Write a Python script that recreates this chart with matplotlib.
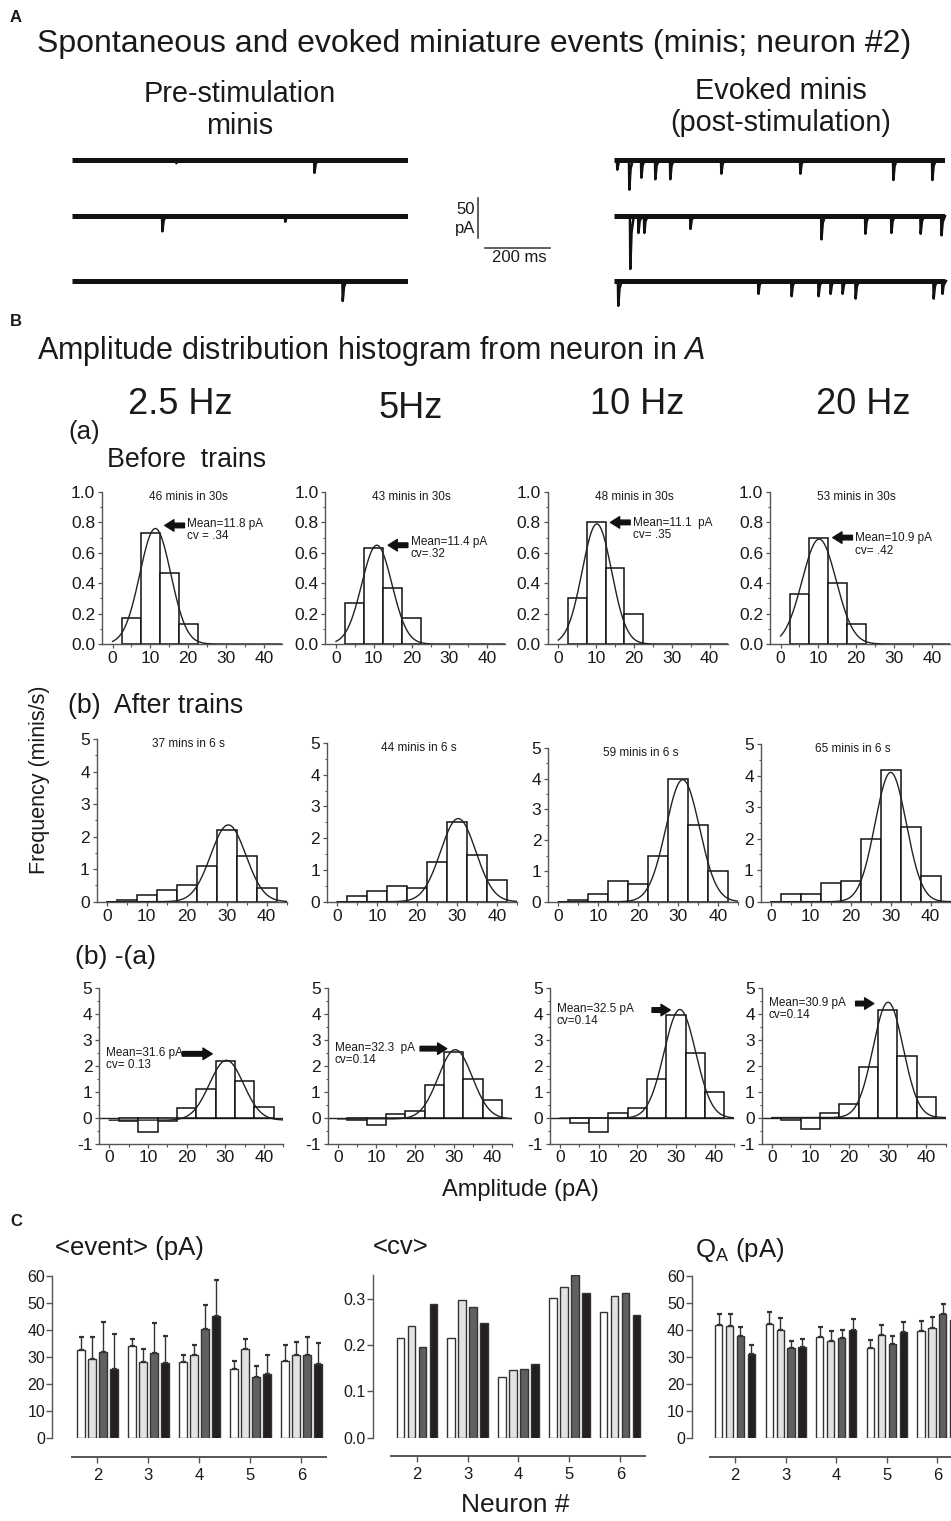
import numpy as np
import matplotlib
matplotlib.use('Agg')
import matplotlib.pyplot as plt
from matplotlib.ticker import MultipleLocator

plt.rcParams['font.family'] = ['Liberation Sans', 'DejaVu Sans']
plt.rcParams['mathtext.fontset'] = 'custom'
plt.rcParams['mathtext.rm'] = 'Liberation Sans'
plt.rcParams['mathtext.it'] = 'Liberation Sans:italic'

# ======================= DATA =======================
# Panel A: miniature events (time in ms, amplitude in pA)
pre_duration = 1034
post_duration = 1018
pre_times = [[320, 745], [277, 655], [832]]
pre_amps = [[4, 16], [19, 7], [25]]
post_times = [[9, 46, 83, 126, 172, 329, 572, 858, 978],
              [49, 74, 92, 234, 637, 772, 852, 942, 1006],
              [12, 443, 545, 628, 665, 702, 742, 982, 1009]]
post_amps = [[12, 37, 22, 24, 24, 17, 17, 25, 25],
             [66, 21, 21, 16, 29, 22, 21, 22, 24],
             [31, 16, 19, 19, 16, 16, 22, 22, 16]]

# Panel B: histograms (bin centres in pA, frequency in minis/s)
bin_centers = [5, 10, 15, 20, 25, 30, 35, 40]
freq_labels = ['2.5 Hz', '5Hz', '10 Hz', '20 Hz']

before_bars = [[0.17, 0.73, 0.47, 0.13, 0, 0, 0, 0],
               [0.27, 0.63, 0.37, 0.17, 0, 0, 0, 0],
               [0.30, 0.80, 0.50, 0.20, 0, 0, 0, 0],
               [0.33, 0.70, 0.40, 0.13, 0, 0, 0, 0]]
before_fit_mu = [11.3, 10.8, 10.2, 10.2]
before_fit_sd = [4.1, 4.0, 3.9, 4.5]
before_fit_peak = [0.76, 0.65, 0.79, 0.69]
before_counts = ['46 minis in 30s', '43 minis in 30s', '48 minis in 30s', '53 minis in 30s']
before_mean_txt = ['Mean=11.8 pA\ncv = .34', 'Mean=11.4 pA\ncv=.32',
                   'Mean=11.1  pA\ncv= .35', 'Mean=10.9 pA\ncv= .42']

after_bars = [[0.05, 0.20, 0.35, 0.52, 1.10, 2.20, 1.41, 0.41],
              [0.17, 0.34, 0.49, 0.42, 1.24, 2.52, 1.46, 0.67],
              [0.07, 0.24, 0.66, 0.59, 1.50, 4.00, 2.50, 1.00],
              [0.24, 0.24, 0.58, 0.66, 1.99, 4.18, 2.38, 0.80]]
after_fit_mu = [30.4, 30.3, 31.1, 30.0]
after_fit_sd = [4.4, 4.4, 4.2, 3.9]
after_fit_peak = [2.36, 2.62, 3.97, 4.10]
after_counts = ['37 mins in 6 s', '44 minis in 6 s', '59 minis in 6 s', '65 minis in 6 s']

diff_bars = [[-0.15, -0.56, -0.15, 0.36, 1.09, 2.18, 1.40, 0.40],
             [-0.10, -0.30, 0.14, 0.26, 1.26, 2.53, 1.47, 0.68],
             [-0.20, -0.55, 0.18, 0.37, 1.50, 3.96, 2.49, 1.00],
             [-0.09, -0.45, 0.19, 0.54, 1.97, 4.15, 2.37, 0.79]]
diff_fit_mu = [30.3, 30.4, 31.0, 30.1]
diff_fit_sd = [4.4, 4.4, 4.1, 3.9]
diff_fit_peak = [2.31, 2.67, 4.19, 4.45]
diff_fit_base = [-0.1, -0.05, -0.02, 0.0]
diff_mean_txt = ['Mean=31.6 pA\ncv= 0.13', 'Mean=32.3  pA\ncv=0.14',
                 'Mean=32.5 pA\ncv=0.14', 'Mean=30.9 pA\ncv=0.14']

# Panel C: per-neuron values, 4 bars per neuron (2.5, 5, 10, 20 Hz)
neurons = [2, 3, 4, 5, 6]
event_mean = [[32.5, 29.3, 31.9, 25.5],
              [33.9, 28.2, 31.6, 27.8],
              [28.3, 30.6, 40.2, 45.1],
              [25.5, 33.0, 22.5, 23.9],
              [28.4, 30.9, 30.8, 27.3]]
event_err = [[5.0, 8.1, 10.9, 13.0],
             [2.9, 4.9, 11.0, 10.1],
             [2.3, 4.0, 9.1, 13.2],
             [3.0, 3.8, 4.0, 7.0],
             [6.0, 4.8, 6.7, 7.9]]
cv_mean = [[0.215, 0.241, 0.195, 0.289],
           [0.214, 0.296, 0.282, 0.248],
           [0.131, 0.147, 0.149, 0.159],
           [0.302, 0.324, 0.350, 0.311],
           [0.270, 0.305, 0.311, 0.264]]
qa_mean = [[41.7, 41.3, 37.9, 31.2],
           [42.1, 40.1, 33.2, 33.6],
           [37.3, 35.9, 36.9, 40.0],
           [33.2, 38.0, 34.9, 39.2],
           [39.5, 40.6, 45.8, 43.5]]
qa_err = [[4.3, 4.7, 3.1, 3.1],
          [4.6, 4.3, 2.8, 3.2],
          [3.7, 3.7, 3.1, 3.9],
          [3.2, 3.9, 3.0, 3.8],
          [3.9, 4.2, 3.9, 4.0]]
bar_colors = ['#ffffff', '#e2e2e2', '#606060', '#231f20']

# ======================= FIGURE =======================
W, H = 951, 1521
fig = plt.figure(figsize=(W / 100, H / 100), dpi=100)
INK = '#1a1a1a'
SP = '#555555'


def add_ax(left, top, width, height):
    return fig.add_axes([left / W, 1 - (top + height) / H, width / W, height / H])


def ftext(x, y, s, **kw):
    kw.setdefault('color', INK)
    fig.text(x / W, 1 - y / H, s, **kw)


# ---------- Panel A ----------
ftext(10, 18, 'A', fontsize=12, fontweight='bold', va='center')
ftext(37, 44, 'Spontaneous and evoked miniature events (minis; neuron #2)',
      fontsize=23, va='center')
ftext(240, 110, 'Pre-stimulation\nminis', fontsize=20.8, ha='center', va='center',
      linespacing=1.2)
ftext(781, 107, 'Evoked minis\n(post-stimulation)', fontsize=20.8, ha='center',
      va='center', linespacing=1.2)


def event_shapes(times, amps):
    shapes = []
    for t, a in zip(times, amps):
        shapes.append(([t, t + 1.2, t + 5, t + 12], [0, -a, -0.3 * a, 0]))
    return shapes


trace_offsets = [-25, -95, -176]
for (left, width, dur, tlist, alist) in [(72, 336, pre_duration, pre_times, pre_amps),
                                         (614, 331, post_duration, post_times, post_amps)]:
    ax = add_ax(left, 140, width, 165)
    ax.set_xlim(0, dur)
    ax.set_ylim(-206, 0)
    ax.axis('off')
    for off, ts, am in zip(trace_offsets, tlist, alist):
        ax.plot([0, dur], [off, off], color='#111111', lw=3.6, solid_capstyle='butt')
        for xs, ys in event_shapes(ts, am):
            ax.plot(xs, np.array(ys) + off, color='#111111', lw=1.8, clip_on=False)

# scale bar
axs = add_ax(470, 190, 100, 60)
axs.set_xlim(0, 100 / 0.325)
axs.set_ylim(-75, 0)
axs.axis('off')
axs.plot([24.6, 24.6], [-10, -60], color='#444444', lw=1.2)
axs.plot([46, 246], [-72.5, -72.5], color='#444444', lw=1.2)
ftext(475, 209, '50', fontsize=12, ha='right', va='center')
ftext(475, 229, 'pA', fontsize=12, ha='right', va='center')
ftext(519, 257, '200 ms', fontsize=12, ha='center', va='center')

# ---------- Panel B ----------
ftext(10, 322, 'B', fontsize=12, fontweight='bold', va='center')
ftext(37, 351, r'Amplitude distribution histogram from neuron in $\mathit{A}$',
      fontsize=22, va='center')
for x, y, s in zip([180, 411, 637, 863], [405, 408, 405, 405], freq_labels):
    ftext(x, y, s, fontsize=26, ha='center', va='center')
ftext(68, 432, '(a)', fontsize=18.5, va='center')
ftext(107, 460, 'Before  trains', fontsize=19.3, va='center')
ftext(68, 706, '(b)  After trains', fontsize=19.3, va='center')
ftext(75, 957, '(b) -(a)', fontsize=19, va='center')
ftext(40, 780, 'Frequency (minis/s)', fontsize=15.5, rotation=90, ha='center',
      va='center')
ftext(520, 1190, 'Amplitude (pA)', fontsize=17, ha='center', va='center')


def style_hist(ax, ymin, ymax, ymaj, ymin_step, fmt):
    for s in ['top', 'right']:
        ax.spines[s].set_visible(False)
    for s in ['left', 'bottom']:
        ax.spines[s].set_color(SP)
        ax.spines[s].set_linewidth(1.0)
    ax.set_ylim(ymin, ymax)
    ax.xaxis.set_major_locator(MultipleLocator(10))
    ax.xaxis.set_minor_locator(MultipleLocator(5))
    ax.yaxis.set_major_locator(MultipleLocator(ymaj))
    ax.yaxis.set_minor_locator(MultipleLocator(ymin_step))
    ax.tick_params(which='major', direction='out', length=3, width=0.9, color=SP,
                   labelsize=12.5, labelcolor=INK, pad=2)
    ax.tick_params(which='minor', direction='out', length=1.8, width=0.8, color=SP)
    ax.set_xticks([0, 10, 20, 30, 40])
    ax.yaxis.set_major_formatter(plt.FuncFormatter(lambda v, p: fmt.format(v)))


def draw_bars(ax, vals):
    c = [b for b, v in zip(bin_centers, vals) if v != 0]
    v = [v for v in vals if v != 0]
    ax.bar(c, v, width=5, facecolor='white', edgecolor='#111111', linewidth=1.1,
           zorder=2)


def draw_fit(ax, mu, sd, peak, base=0.0):
    xx = np.linspace(0, 45, 300)
    ax.plot(xx, base + peak * np.exp(-(xx - mu) ** 2 / (2 * sd ** 2)), color='#222222',
            lw=1.0, zorder=3)


def arrow(ax, tail, tip):
    ax.annotate('', xy=tip, xytext=tail,
                arrowprops=dict(arrowstyle='simple,head_length=0.6,head_width=0.75,tail_width=0.3',
                                color='#111111', mutation_scale=11, shrinkA=0, shrinkB=0))


# row (a)
row_a_lefts = [102, 325.4, 547.7, 770]
arrow_a_y = [0.78, 0.65, 0.80, 0.70]
text_a_y = [0.75, 0.63, 0.755, 0.655]
for i in range(4):
    ax = add_ax(row_a_lefts[i], 492, 180, 152)
    ax.set_xlim(-2.8, 44.8)
    style_hist(ax, 0, 1.0, 0.2, 0.1, '{:.1f}')
    draw_bars(ax, before_bars[i])
    draw_fit(ax, before_fit_mu[i], before_fit_sd[i], before_fit_peak[i])
    ax.text(20, 0.965, before_counts[i], fontsize=8.5, ha='center', va='center',
            color=INK)
    ax.text(19.8, text_a_y[i], before_mean_txt[i], fontsize=8.5, ha='left',
            va='center', color=INK, linespacing=1.05)
    arrow(ax, (19.0, arrow_a_y[i]), (13.8, arrow_a_y[i]))

# row (b)
row_b_lefts = [96.7, 327, 548.3, 760.7]
row_b_tops = [739, 743, 748, 744]
for i in range(4):
    ax = add_ax(row_b_lefts[i], row_b_tops[i], 190, 901.7 - row_b_tops[i])
    style_hist(ax, 0, 5, 1, 0.5, '{:.0f}')
    ax.set_xlim(-2.5, 45)
    ax.plot([0, 45], [0, 0], color=SP, lw=1.0, zorder=1)
    draw_bars(ax, after_bars[i])
    draw_fit(ax, after_fit_mu[i], after_fit_sd[i], after_fit_peak[i])
    ax.text(20.5, 4.85, after_counts[i], fontsize=8.5, ha='center', va='center',
            color=INK)

# row (b)-(a)
row_c_lefts = [99.3, 327.7, 550, 761.7]
txt_c_y = [2.25, 2.45, 3.95, 4.2]
arr_c = [((18.9, 2.46), (26.6, 2.46)), ((21.3, 2.66), (28.2, 2.66)),
         ((23.8, 4.15), (28.5, 4.15)), ((21.7, 4.4), (26.4, 4.4))]
for i in range(4):
    ax = add_ax(row_c_lefts[i], 988, 184, 155.5)
    style_hist(ax, -1, 5, 1, 0.5, '{:.0f}')
    ax.set_xlim(-2.6, 45)
    ax.axhline(0, color='#222222', lw=1.0, zorder=1)
    draw_bars(ax, diff_bars[i])
    draw_fit(ax, diff_fit_mu[i], diff_fit_sd[i], diff_fit_peak[i], diff_fit_base[i])
    ax.text(-0.8, txt_c_y[i], diff_mean_txt[i], fontsize=8.5, ha='left',
            va='center', color=INK, linespacing=1.05)
    arrow(ax, arr_c[i][0], arr_c[i][1])

# ---------- Panel C ----------
ftext(10, 1222, 'C', fontsize=12, fontweight='bold', va='center')
ftext(55, 1248, '<event> (pA)', fontsize=18.5, va='center')
ftext(373, 1247, '<cv>', fontsize=18.5, va='center')
ftext(695, 1250, r'Q$_\mathrm{A}$ (pA)', fontsize=18.5, va='center')
ftext(515, 1505, 'Neuron #', fontsize=19, ha='center', va='center')

offs = np.array([-1.5, -0.5, 0.5, 1.5]) * 0.216
bw = 0.143


def bar_panel(left, top, x0, x1, pxu, ymax, ymaj, fmt, means, errs):
    width = (x1 - x0) * pxu
    ax = add_ax(left, top, width, 162.6)
    ax.set_xlim(x0, x1)
    ax.set_ylim(0, ymax)
    for s in ['top', 'right']:
        ax.spines[s].set_visible(False)
    ax.spines['left'].set_color(SP)
    ax.spines['bottom'].set_color(SP)
    ax.spines['left'].set_linewidth(1.0)
    ax.spines['bottom'].set_linewidth(1.4)
    ax.spines['bottom'].set_position(('outward', 13.2))
    ax.spines['bottom'].set_bounds(1.5, x1)
    ax.spines['left'].set_bounds(0, ymax)
    ax.set_xticks(neurons)
    ax.yaxis.set_major_locator(MultipleLocator(ymaj))
    ax.yaxis.set_major_formatter(plt.FuncFormatter(lambda v, p: fmt.format(v)))
    ax.tick_params(axis='both', direction='out', length=4, width=1.0, color=SP,
                   labelcolor=INK)
    ax.tick_params(axis='y', labelsize=11.5, pad=1)
    ax.tick_params(axis='x', labelsize=12, pad=4)
    for k in range(4):
        xs = np.array(neurons) + offs[k]
        vals = [m[k] for m in means]
        ax.bar(xs, vals, width=bw, color=bar_colors[k], edgecolor='#333333',
               linewidth=1.0, zorder=2)
        if errs is not None:
            ev = [e[k] for e in errs]
            ax.errorbar(xs, vals, yerr=[np.zeros(len(ev)), ev], fmt='none',
                        ecolor='#333333', elinewidth=1.0, capsize=1.8, capthick=1.6,
                        zorder=1)
    return ax


bar_panel(52, 1275.7, 1.11, 6.48, 51.0, 60, 10, '{:.0f}', event_mean, event_err)
bar_panel(372.7, 1275.3, 1.136, 6.485, 50.9, 0.35, 0.1, '{:.1f}', cv_mean, None)
bar_panel(691.7, 1275.7, 1.144, 6.84, 50.6, 60, 10, '{:.0f}', qa_mean, qa_err)

fig.savefig('out.png', dpi=100)
